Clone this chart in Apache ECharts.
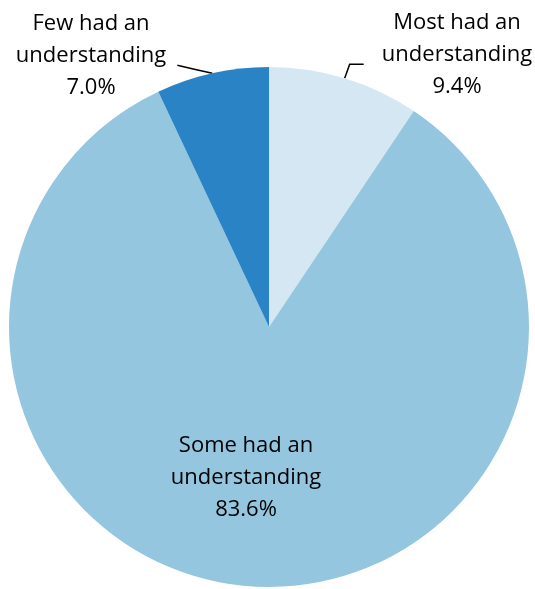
<!DOCTYPE html>
<html>
<head>
<meta charset="utf-8">
<script src="https://cdn.jsdelivr.net/npm/echarts@6/dist/echarts.min.js"></script>
<style>
  html, body { margin: 0; padding: 0; background: #fff; }
  #chart { width: 535px; height: 589px; }
</style>
</head>
<body>
<div id="chart"></div>
<script>
// Share of respondents by level of understanding (clockwise from 12 o'clock)
const categories = ['Most had an understanding', 'Some had an understanding', 'Few had an understanding'];
const shares = [9.4, 83.6, 7.0];
const sliceColors = ['#D5E7F3', '#94C6DF', '#2A83C4'];

// Where each label block sits (centre of the text block)
const labelSpots = [
  { x: 457, y: 55 },
  { x: 246, y: 478 },
  { x: 91, y: 56 }
];
// Leader line bends, relative to the anchor on the slice edge
const leaderBends = [
  [[5, -14], [19, -14]],
  null,
  [[-18, -4], [-35, -8]]
];

const chart = echarts.init(document.getElementById('chart'), null, { renderer: 'canvas' });

const data = categories.map((name, i) => ({
  name,
  value: shares[i],
  itemStyle: { color: sliceColors[i] },
  label: { position: i === 1 ? 'inside' : 'outside' },
  labelLine: { show: i !== 1 }
}));

chart.setOption({
  animation: false,
  series: [{
    type: 'pie',
    center: [269, 327],
    radius: [0, 260],
    startAngle: 90,
    clockwise: true,
    avoidLabelOverlap: false,
    data,
    itemStyle: { borderWidth: 0 },
    label: {
      show: true,
      color: '#000',
      fontFamily: '"Open Sans", sans-serif',
      fontSize: 22,
      lineHeight: 32,
      align: 'center',
      formatter: p => {
        const words = p.name.split(' ');
        return words.slice(0, 3).join(' ') + '\n' + words.slice(3).join(' ') + '\n' + p.value.toFixed(1) + '%';
      }
    },
    labelLine: {
      show: true,
      length: 14,
      length2: 12,
      lineStyle: { color: '#000', width: 1.5 }
    },
    labelLayout: p => {
      const s = labelSpots[p.dataIndex];
      const out = { x: s.x, y: s.y, align: 'center', verticalAlign: 'middle' };
      const bends = leaderBends[p.dataIndex];
      if (bends && p.labelLinePoints && p.labelLinePoints.length) {
        const a = p.labelLinePoints[0];
        out.labelLinePoints = [[a[0], a[1]]].concat(bends.map(b => [a[0] + b[0], a[1] + b[1]]));
      }
      return out;
    }
  }]
});
</script>
</body>
</html>
